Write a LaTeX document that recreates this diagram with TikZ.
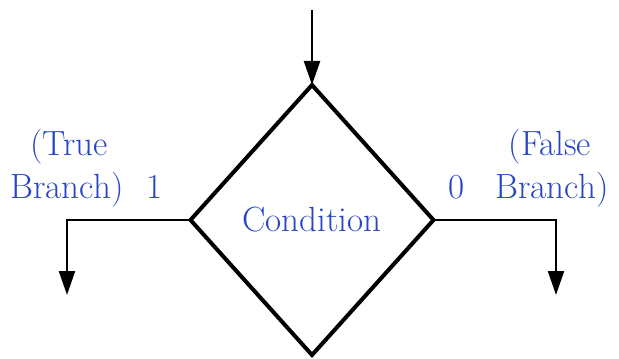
\documentclass[tikz,border=0pt]{standalone}
\usetikzlibrary{shapes.geometric,arrows.meta}
\definecolor{txtblue}{RGB}{40,70,195}
\tikzset{
  cond/.style={diamond, draw=black, line width=2pt, minimum width=121.5pt, minimum height=135pt, inner sep=0pt, outer sep=0pt, text=txtblue, font=\fontsize{17.5}{20}\selectfont},
  lbl/.style={text=txtblue, font=\fontsize{17.5}{20}\selectfont, inner sep=0pt, anchor=base},
  conn/.style={line width=1.1pt, -{Triangle[length=12pt,width=8pt]}}
}
\begin{document}
\begin{tikzpicture}[x=0.5pt,y=-0.5pt]
\useasboundingbox (0,0) rectangle (619,358);
\node[cond] (d) at (312,220) {Condition};
\coordinate (top) at (312,10);
\coordinate (lend) at (67,295);
\coordinate (rend) at (556,295);
\draw[conn] (top) -- (d.north);
\draw[conn] (d.west) -| (lend);
\draw[conn] (d.east) -| (rend);
\node[lbl] (t1) at (69,155) {(True};
\node[lbl] (t2) at (67,198) {Branch)};
\node[lbl] (one) at (155,198) {1};
\node[lbl] (zero) at (457,198) {0};
\node[lbl] (f1) at (550,155) {(False};
\node[lbl] (f2) at (552,198) {Branch)};
\end{tikzpicture}
\end{document}
